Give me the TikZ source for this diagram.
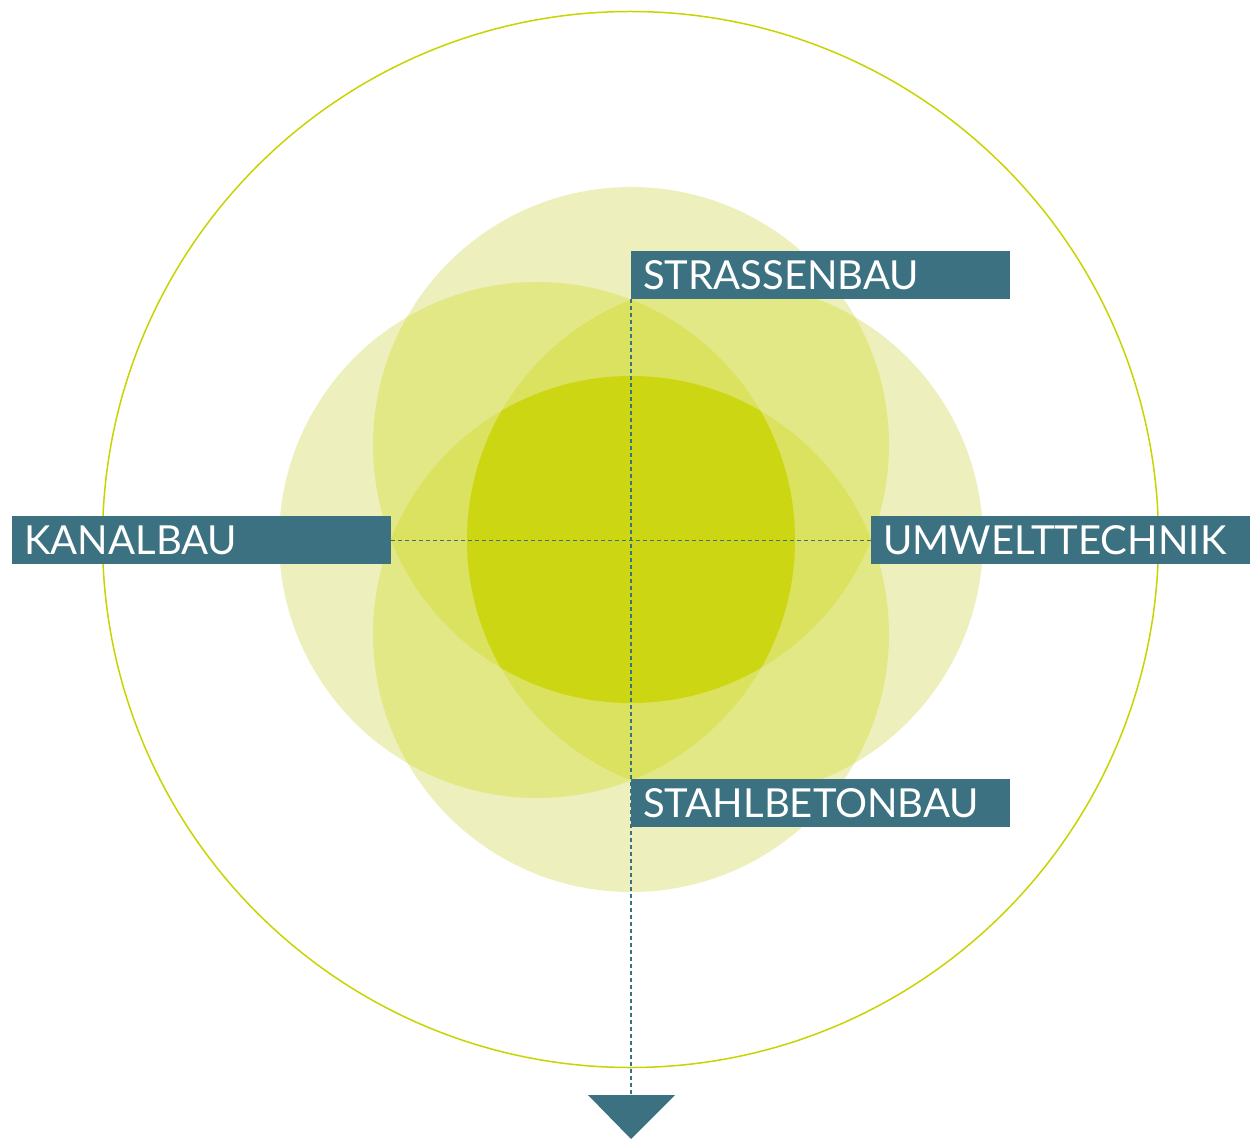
\documentclass[tikz,border=0pt]{standalone}
\usepackage{fontspec}
\setmainfont{Lato}
\definecolor{tealbox}{RGB}{59,113,128}
\definecolor{yl}{RGB}{200,212,0}
\definecolor{cA}{RGB}{237,240,188}
\definecolor{cB}{RGB}{227,232,135}
\definecolor{cC}{RGB}{219,226,96}
\definecolor{cD}{RGB}{204,214,18}
\begin{document}
\begin{tikzpicture}[x=1pt,y=-1pt,
  lbl/.style={fill=tealbox,text=white,anchor=north west,minimum height=48pt,
    text width=355pt,inner xsep=12pt,inner ysep=0pt,align=left,
    font=\fontsize{40}{40}\selectfont},
  dashline/.style={draw=tealbox,line width=1.2pt,dash pattern=on 4pt off 3pt}]
\useasboundingbox (0,0) rectangle (1252,1139);
\def\cT{(631,445) circle[radius=258pt]}
\def\cBo{(631,634) circle[radius=258pt]}
\def\cL{(537,540) circle[radius=258pt]}
\def\cR{(725,540) circle[radius=258pt]}
% outer ring
\draw[yl,line width=1.5pt] (630.5,539.5) circle[radius=528pt];
% single coverage
\fill[cA] \cT; \fill[cA] \cBo; \fill[cA] \cL; \fill[cA] \cR;
% double
\begin{scope}\clip \cT; \fill[cB] \cL; \fill[cB] \cR; \fill[cB] \cBo; \end{scope}
\begin{scope}\clip \cBo; \fill[cB] \cL; \fill[cB] \cR; \end{scope}
\begin{scope}\clip \cL; \fill[cB] \cR; \end{scope}
% triple
\begin{scope}\clip \cT; \clip \cL; \fill[cC] \cR; \fill[cC] \cBo; \end{scope}
\begin{scope}\clip \cT; \clip \cR; \fill[cC] \cBo; \end{scope}
\begin{scope}\clip \cBo; \clip \cL; \fill[cC] \cR; \end{scope}
% quadruple
\begin{scope}\clip \cT; \clip \cBo; \clip \cL; \fill[cD] \cR; \end{scope}
% labels
\node[lbl] (str) at (631,251) {STRASSENBAU};
\node[lbl] (kan) at (12,516) {KANALBAU};
\node[lbl] (umw) at (871,516) {UMWELTTECHNIK};
\node[lbl] (sta) at (631,779) {STAHLBETONBAU};
% arrow head
\coordinate (tip) at (631,1095);
\fill[tealbox] (588,1095) -- (675,1095) -- (631,1139) -- cycle;
% dashed connectors
\draw[dashline] (str.south west) -- (tip);
\draw[dashline] (kan.east) -- (umw.west);
\end{tikzpicture}
\end{document}
